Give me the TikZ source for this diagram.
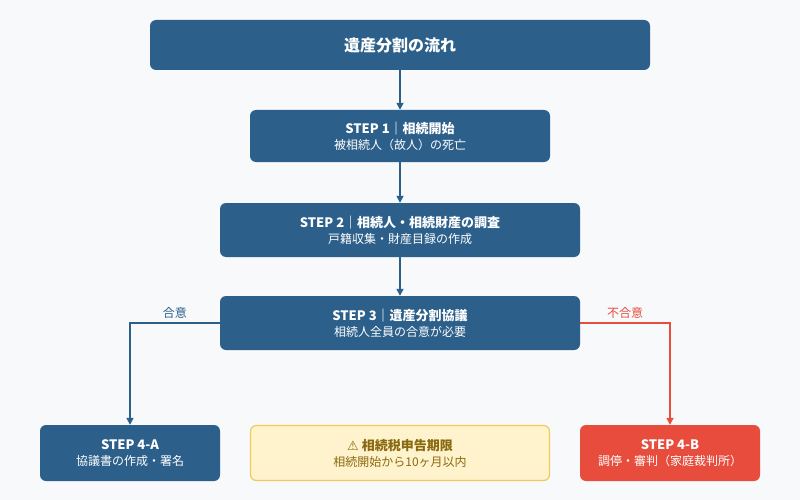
\documentclass[tikz,border=0pt]{standalone}
\usepackage{fontspec}
\setmainfont{Noto Sans CJK JP}
\newfontfamily\symfont{DejaVu Sans}
\usetikzlibrary{arrows.meta}
\definecolor{stepblue}{HTML}{2C5F8A}
\definecolor{stepred}{HTML}{E74C3C}
\definecolor{warnfill}{HTML}{FFF3CD}
\definecolor{warnline}{HTML}{F0CA5A}
\definecolor{warntext}{HTML}{8A6A10}
\definecolor{bgcol}{HTML}{F7F9FB}
\tikzset{
  every node/.style = {font = \fontsize{12}{14}\selectfont},
  >={Triangle[length=7pt,width=7pt]},
  box/.style = {rounded corners=6pt, minimum height=52pt, align=center,
    inner sep=0pt, text=white},
  stepbox/.style = {box, fill=stepblue},
  link/.style = {->, line width=1.6pt, draw=stepblue}
}
\newcommand{\steptitle}[1]{{\fontsize{13}{16}\selectfont\bfseries #1}\\[2pt]}

\begin{document}
\begin{tikzpicture}[x=1pt,y=-1pt]
\fill[bgcol] (0,0) rectangle (800,500);
\useasboundingbox (0,0) rectangle (800,500);

% Boxes, top to bottom
\node[stepbox, minimum width=500pt, minimum height=50pt] (title) at (400,45)
  {\fontsize{16}{18}\selectfont\bfseries 遺産分割の流れ};
\node[stepbox, minimum width=300pt] (s1) at (400,136)
  {\steptitle{STEP 1｜相続開始}被相続人（故人）の死亡};
\node[stepbox, minimum width=360pt, minimum height=54pt] (s2) at (400,230)
  {\steptitle{STEP 2｜相続人・相続財産の調査}戸籍収集・財産目録の作成};
\node[stepbox, minimum width=360pt, minimum height=54pt] (s3) at (400,323)
  {\steptitle{STEP 3｜遺産分割協議}相続人全員の合意が必要};
\node[stepbox, minimum width=180pt, minimum height=56pt] (s4a) at (130,453)
  {\steptitle{STEP 4-A}協議書の作成・署名};
\node[box, fill=warnfill, draw=warnline, line width=1.2pt, text=warntext,
  minimum width=299pt, minimum height=55pt] (warn) at (400,453)
  {\steptitle{{\symfont ⚠} 相続税申告期限}相続開始から10ヶ月以内};
\node[box, fill=stepred, minimum width=180pt, minimum height=56pt] (s4b) at (670,453)
  {\steptitle{STEP 4-B}調停・審判（家庭裁判所）};

% Connectors
\draw[link] (title) -- (s1);
\draw[link] (s1) -- (s2);
\draw[link] (s2) -- (s3);
\draw[link] (s3.west) -| node[pos=0.25, above, text=stepblue] {合意} (s4a.north);
\draw[link, draw=stepred] (s3.east) -| node[pos=0.25, above, text=stepred] {不合意} (s4b.north);
\end{tikzpicture}
\end{document}
